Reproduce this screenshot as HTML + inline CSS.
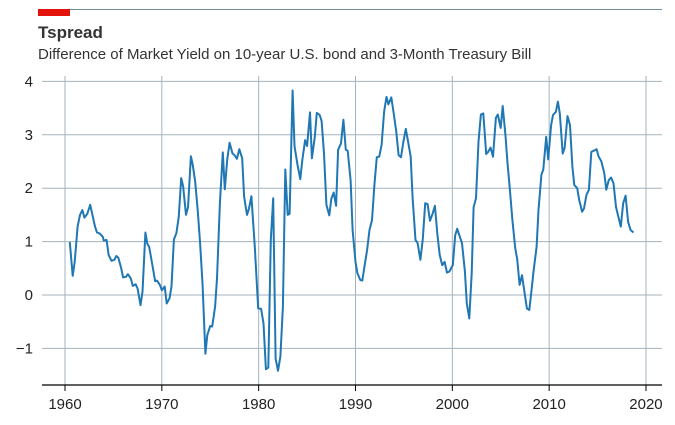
<!DOCTYPE html>
<html><head><meta charset="utf-8"><style>
body{margin:0;background:#fff;font-family:"Liberation Sans",sans-serif}
</style></head><body>
<svg width="675" height="420" xmlns="http://www.w3.org/2000/svg">
<rect x="38" y="9" width="32" height="7" fill="#e3120b"/>
<line x1="70" y1="9.5" x2="662" y2="9.5" stroke="#758d99" stroke-width="1"/>
<text x="38" y="38" font-size="17" font-weight="bold" fill="#333">Tspread</text>
<text x="38" y="59" font-size="15" fill="#333">Difference of Market Yield on 10-year U.S. bond and 3-Month Treasury Bill</text>
<g id="grid"></g>
<g id="axes"></g>
<path id="line" fill="none" stroke="#1f77b4" stroke-width="2" stroke-linejoin="round"/>
</svg>
<script>
const years=[1960.5,1960.8,1961.0,1961.3,1961.55,1961.8,1962.0,1962.3,1962.6,1962.8,1963.1,1963.3,1963.6,1963.9,1964.0,1964.3,1964.5,1964.8,1965.1,1965.3,1965.5,1965.8,1966.0,1966.3,1966.5,1966.8,1967.0,1967.3,1967.5,1967.8,1968.0,1968.3,1968.5,1968.7,1969.0,1969.3,1969.5,1969.8,1970.0,1970.3,1970.5,1970.8,1971.0,1971.25,1971.5,1971.75,1972.0,1972.2,1972.5,1972.7,1973.0,1973.2,1973.45,1973.7,1973.95,1974.2,1974.5,1974.7,1975.0,1975.2,1975.5,1975.7,1976.0,1976.3,1976.5,1976.75,1977.0,1977.3,1977.5,1977.75,1978.0,1978.3,1978.5,1978.8,1979.0,1979.25,1979.6,1979.95,1980.25,1980.5,1980.75,1981.0,1981.25,1981.5,1981.75,1982.0,1982.25,1982.5,1982.75,1983.0,1983.2,1983.5,1983.7,1984.0,1984.3,1984.5,1984.8,1985.0,1985.3,1985.5,1985.8,1986.0,1986.3,1986.5,1986.75,1987.0,1987.3,1987.5,1987.75,1988.0,1988.2,1988.5,1988.75,1989.0,1989.2,1989.5,1989.7,1990.0,1990.2,1990.5,1990.7,1991.0,1991.2,1991.45,1991.7,1991.95,1992.2,1992.45,1992.7,1992.95,1993.2,1993.4,1993.7,1993.95,1994.2,1994.45,1994.7,1994.95,1995.2,1995.4,1995.7,1995.9,1996.2,1996.4,1996.7,1996.95,1997.2,1997.45,1997.7,1997.97,1998.2,1998.45,1998.7,1998.95,1999.2,1999.45,1999.7,2000.05,2000.3,2000.5,2001.0,2001.3,2001.5,2001.75,2002.0,2002.2,2002.45,2002.7,2002.95,2003.2,2003.5,2003.7,2003.95,2004.2,2004.5,2004.7,2005.0,2005.2,2005.5,2005.7,2005.95,2006.2,2006.5,2006.7,2006.95,2007.2,2007.5,2007.7,2007.95,2008.2,2008.4,2008.7,2008.9,2009.2,2009.4,2009.7,2009.9,2010.2,2010.4,2010.7,2010.9,2011.1,2011.4,2011.6,2011.9,2012.15,2012.4,2012.6,2012.9,2013.1,2013.4,2013.6,2013.85,2014.1,2014.35,2014.6,2014.9,2015.1,2015.4,2015.7,2015.9,2016.15,2016.4,2016.65,2016.9,2017.1,2017.4,2017.65,2017.9,2018.15,2018.4,2018.7];
const spread=[0.99,0.36,0.62,1.28,1.50,1.59,1.45,1.52,1.69,1.53,1.28,1.17,1.15,1.09,1.02,1.03,0.75,0.64,0.66,0.73,0.70,0.50,0.33,0.34,0.39,0.31,0.17,0.20,0.12,-0.19,0.06,1.17,0.96,0.90,0.59,0.26,0.27,0.19,0.09,0.16,-0.16,-0.06,0.16,1.04,1.16,1.47,2.19,2.04,1.50,1.64,2.60,2.43,2.12,1.59,0.97,0.22,-1.10,-0.75,-0.58,-0.59,-0.22,0.31,1.72,2.67,1.98,2.53,2.85,2.65,2.62,2.55,2.73,2.56,1.84,1.50,1.62,1.85,0.90,-0.25,-0.26,-0.53,-1.39,-1.36,1.03,1.81,-1.19,-1.42,-1.15,-0.22,2.35,1.50,1.52,3.83,2.79,2.45,2.17,2.51,2.90,2.79,3.42,2.56,2.96,3.41,3.37,3.26,2.65,1.69,1.49,1.80,1.92,1.67,2.72,2.84,3.28,2.72,2.70,2.15,1.22,0.62,0.41,0.28,0.27,0.62,0.84,1.22,1.40,2.06,2.58,2.59,2.81,3.43,3.71,3.57,3.70,3.40,3.07,2.62,2.58,2.87,3.11,2.90,2.59,1.82,1.03,0.98,0.66,1.05,1.72,1.70,1.39,1.53,1.67,1.15,0.75,0.56,0.62,0.42,0.44,0.56,1.12,1.24,0.97,0.44,-0.16,-0.44,0.41,1.64,1.81,2.87,3.38,3.40,2.64,2.68,2.76,2.59,3.32,3.38,3.13,3.54,2.96,2.47,1.97,1.40,0.87,0.67,0.19,0.37,0.00,-0.25,-0.28,0.12,0.47,0.90,1.59,2.25,2.35,2.96,2.54,3.18,3.37,3.43,3.62,3.40,2.65,2.75,3.35,3.18,2.40,2.06,2.00,1.78,1.56,1.62,1.87,1.97,2.68,2.70,2.73,2.60,2.50,2.28,1.97,2.15,2.20,2.09,1.65,1.50,1.28,1.72,1.86,1.37,1.22,1.17];
const xTicks=[1960,1970,1980,1990,2000,2010,2020];
const yTicks=[-1,0,1,2,3,4];
const yTickLabels=["\u22121","0","1","2","3","4"];
const NS="http://www.w3.org/2000/svg";
function xs(v){return 65+(v-1960)*9.683;}
function ys(v){return 295-v*53.4;}
function mk(t,a,p){const e=document.createElementNS(NS,t);for(const k in a)e.setAttribute(k,a[k]);p.appendChild(e);return e;}
const grid=document.getElementById('grid'),axes=document.getElementById('axes');
yTicks.forEach((t,i)=>{
 const l=mk('line',{x1:42,x2:662,y1:ys(t),y2:ys(t),stroke:'#a3b3bd','stroke-width':1},grid);
 
 
 const tx=mk('text',{x:33,y:ys(t)+5,'text-anchor':'end','font-size':15,fill:'#222'},axes);
 tx.textContent=yTickLabels[i];
 
 
});
xTicks.forEach(t=>{
 const l=mk('line',{x1:xs(t),x2:xs(t),y1:76,y2:385,stroke:'#a3b3bd','stroke-width':1},grid);
 
 
 const tk=mk('line',{x1:xs(t),x2:xs(t),y1:385,y2:391,stroke:'#000','stroke-width':1},axes);
 
 
 const tx=mk('text',{x:xs(t),y:409,'text-anchor':'middle','font-size':15,fill:'#222'},axes);
 tx.textContent=t;
 
 
});
const ax=mk('line',{x1:42,x2:662,y1:385,y2:385,stroke:'#000','stroke-width':1.3},axes);


document.getElementById('line').setAttribute('d',years.map((y,i)=>(i?'L':'M')+xs(y).toFixed(1)+','+ys(spread[i]).toFixed(1)).join(''));
</script>
</body></html>
